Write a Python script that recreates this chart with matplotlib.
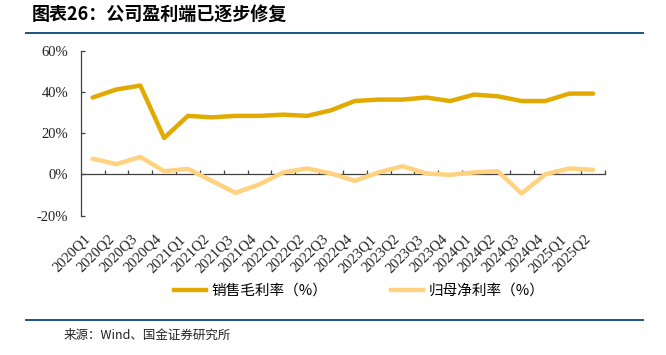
import matplotlib
matplotlib.use('Agg')
import matplotlib.pyplot as plt
from matplotlib.ticker import FixedLocator, PercentFormatter
from matplotlib.lines import Line2D

plt.rcParams['axes.unicode_minus'] = False

# data (%)
quarters = ['2020Q1', '2020Q2', '2020Q3', '2020Q4', '2021Q1', '2021Q2', '2021Q3', '2021Q4',
            '2022Q1', '2022Q2', '2022Q3', '2022Q4', '2023Q1', '2023Q2', '2023Q3', '2023Q4',
            '2024Q1', '2024Q2', '2024Q3', '2024Q4', '2025Q1', '2025Q2']
gross_margin = [37.3, 41.2, 43.1, 17.7, 28.4, 27.7, 28.4, 28.4, 29.0, 28.4, 31.1, 35.6,
                36.3, 36.3, 37.3, 35.6, 38.7, 37.9, 35.6, 35.6, 39.2, 39.2]
net_margin = [7.6, 5.0, 8.5, 1.6, 2.7, -3.1, -8.9, -4.8, 1.0, 2.9, 0.5, -3.1,
              1.0, 4.0, 0.5, -0.2, 1.0, 1.6, -9.2, 0.1, 2.9, 2.2]
yticks = [-20, 0, 20, 40, 60]

gold = '#E2AA00'
light = '#FFD280'
axis_col = '#404040'
rule_col = '#1B5384'

fig = plt.figure(figsize=(6.66, 3.55), dpi=100)
ax = fig.add_axes([0.1212, 0.3924, 0.7872, 0.4648])

x = list(range(len(quarters)))
ax.plot(x, gross_margin, color=gold, lw=3.2, solid_capstyle='round', solid_joinstyle='round')
ax.plot(x, net_margin, color=light, lw=3.2, solid_capstyle='round', solid_joinstyle='round')

ax.set_xlim(-0.5, len(quarters) - 0.5)
ax.set_ylim(-20, 60)

for s in ['top', 'right', 'bottom']:
    ax.spines[s].set_visible(False)
ax.spines['left'].set_color(axis_col)
ax.spines['left'].set_linewidth(0.9)

ax.set_yticks(yticks)
ax.yaxis.set_major_formatter(PercentFormatter(decimals=0))
ax.tick_params(axis='y', direction='in', length=3, width=0.9, color=axis_col, pad=9,
               labelsize=10.5, labelcolor='#222222')
for lab in ax.get_yticklabels():
    lab.set_family('Liberation Serif')

ax.set_xticks(x)
ax.set_xticklabels(quarters, rotation=45, ha='right', va='top',
                   family='Liberation Serif', fontsize=10.5, color='#222222')
ax.tick_params(axis='x', length=0, pad=12)

# zero axis with category-boundary ticks
zero = ax.secondary_xaxis(0.25)
zero.spines['bottom'].set_color(axis_col)
zero.spines['bottom'].set_linewidth(0.9)
zero.xaxis.set_major_locator(FixedLocator([i + 0.5 for i in range(len(quarters))]))
zero.tick_params(axis='x', direction='in', length=3, width=0.9, color=axis_col, labelbottom=False)

# legend
handles = [Line2D([], [], color=gold, lw=3.2), Line2D([], [], color=light, lw=3.2)]
fig.legend(handles, ['销售毛利率（%）', '归母净利率（%）'], loc='center',
           bbox_to_anchor=(0.539, 0.181), ncol=2, frameon=False,
           prop={'family': ['Noto Sans CJK SC', 'DejaVu Sans'], 'size': 10.5},
           handlelength=2.2, handletextpad=0.35, columnspacing=4.4)

# title, rules, source
fig.text(0.048, 0.957, '图表26：公司盈利端已逐步修复', fontsize=13, fontweight='bold',
         style='italic', family=['Noto Sans CJK SC', 'DejaVu Sans'], va='center', ha='left')
fig.add_artist(Line2D([0.039, 0.965], [0.907, 0.907], color=rule_col, lw=1.4))
fig.add_artist(Line2D([0.039, 0.965], [0.0986, 0.0986], color=rule_col, lw=1.4))
fig.text(0.095, 0.056, '来源：Wind、国金证券研究所', fontsize=9,
         family=['Noto Sans CJK SC', 'DejaVu Sans'], va='center', ha='left', color='#222222')

plt.savefig('out.png', dpi=100)
